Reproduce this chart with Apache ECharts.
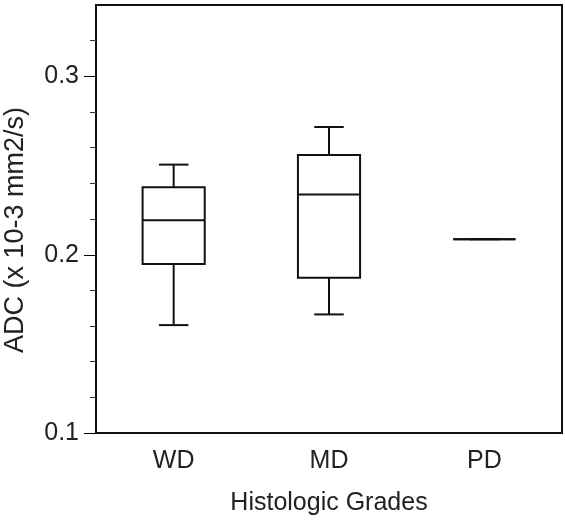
<!DOCTYPE html>
<html>
<head>
<meta charset="utf-8">
<script src="https://cdn.jsdelivr.net/npm/echarts@6/dist/echarts.min.js"></script>
<style>
  html, body { margin: 0; padding: 0; background: #fff; }
  #chart { width: 565px; height: 524px; }
</style>
</head>
<body>
<div id="chart"></div>
<script>
// 箱ひげ図 (ADC vs histologic grade)
const categories = ["WD", "MD", "PD"];
const lowWhisker = [0.1605, 0.1665, 0.2087];
const q1 = [0.1948, 0.187, 0.2087];
const median = [0.2193, 0.2337, 0.2087];
const q3 = [0.2378, 0.2559, 0.2087];
const highWhisker = [0.2505, 0.2716, 0.2087];
const yLabels = [0.1, 0.2, 0.3];
const yMinorTicks = [0.12, 0.14, 0.16, 0.18, 0.22, 0.24, 0.26, 0.28, 0.32];

const FONT = "'Liberation Sans', Arial, sans-serif";
const INK = "#111";
const TXT = "#222";
const Y_MIN = 0.1;
const Y_MAX = 0.34;
const GRID_LEFT = 96;
const MAJOR_TICK_LEN = 12;

const boxData = categories.map((c, i) => [i, lowWhisker[i], q1[i], median[i], q3[i], highWhisker[i]]);

const chart = echarts.init(document.getElementById("chart"));

const renderBox = (params, api) => {
  const idx = api.value(0);
  const band = api.size([1, 0])[0];
  const half = band * 0.2;
  const cap = band * 0.095;
  const pLow = api.coord([idx, api.value(1)]);
  const pQ1 = api.coord([idx, api.value(2)]);
  const pMed = api.coord([idx, api.value(3)]);
  const pQ3 = api.coord([idx, api.value(4)]);
  const pHigh = api.coord([idx, api.value(5)]);
  const x = pMed[0];
  const style = { stroke: INK, lineWidth: 2, fill: null };
  const line = (x1, y1, x2, y2) => ({
    type: "line",
    shape: { x1, y1, x2, y2 },
    style,
  });
  return {
    type: "group",
    children: [
      {
        type: "rect",
        shape: { x: x - half, y: pQ3[1], width: half * 2, height: pQ1[1] - pQ3[1] },
        style,
      },
      line(x - half, pMed[1], x + half, pMed[1]),
      line(x, pQ3[1], x, pHigh[1]),
      line(x, pQ1[1], x, pLow[1]),
      line(x - cap, pHigh[1], x + cap, pHigh[1]),
      line(x - cap, pLow[1], x + cap, pLow[1]),
    ],
  };
};

const tickStyle = { color: "#333", width: 1 };

const option = {
  backgroundColor: "#fff",
  animation: false,
  grid: {
    left: GRID_LEFT,
    right: 3,
    top: 5,
    bottom: 91,
    outerBoundsMode: "none",
    containLabel: false,
    show: true,
    borderColor: INK,
    borderWidth: 2,
  },
  xAxis: {
    type: "category",
    data: categories,
    boundaryGap: true,
    name: "Histologic Grades",
    nameLocation: "middle",
    nameGap: 58,
    nameTextStyle: { fontFamily: FONT, fontSize: 25, color: TXT },
    axisLine: { lineStyle: { color: INK, width: 2 } },
    axisTick: { alignWithLabel: true, length: 11, lineStyle: tickStyle },
    axisLabel: { margin: 16, fontFamily: FONT, fontSize: 25, color: TXT },
    splitLine: { show: false },
  },
  yAxis: {
    type: "value",
    min: Y_MIN,
    max: Y_MAX,
    name: "ADC (x 10-3 mm2/s)",
    nameLocation: "middle",
    nameGap: 67,
    nameTextStyle: { fontFamily: FONT, fontSize: 27, color: TXT, padding: [0, 22, 0, 0] },
    axisLine: { show: true, lineStyle: { color: INK, width: 2 } },
    axisTick: { show: true, length: 6, customValues: yMinorTicks, lineStyle: tickStyle },
    axisLabel: {
      margin: 17,
      fontFamily: FONT,
      fontSize: 25,
      color: TXT,
      customValues: yLabels,
      formatter: (v) => v.toFixed(1),
    },
    splitLine: { show: false },
  },
  series: [
    {
      type: "custom",
      renderItem: renderBox,
      encode: { x: 0, y: [1, 2, 3, 4, 5] },
      data: boxData,
    },
  ],
};

chart.setOption(option);

// 主目盛り: y軸のスケールから位置を取り、別レイヤーに描く
const majorTicks = yLabels.map((v) => {
  const y = Math.round(chart.convertToPixel({ yAxisIndex: 0 }, v)) + 0.5;
  return {
    type: "line",
    zlevel: 1,
    z: 100,
    shape: { x1: GRID_LEFT - MAJOR_TICK_LEN, y1: y, x2: GRID_LEFT, y2: y },
    style: { stroke: "#000", lineWidth: 1 },
    silent: true,
  };
});
chart.setOption({ graphic: { elements: majorTicks } });
</script>
</body>
</html>
